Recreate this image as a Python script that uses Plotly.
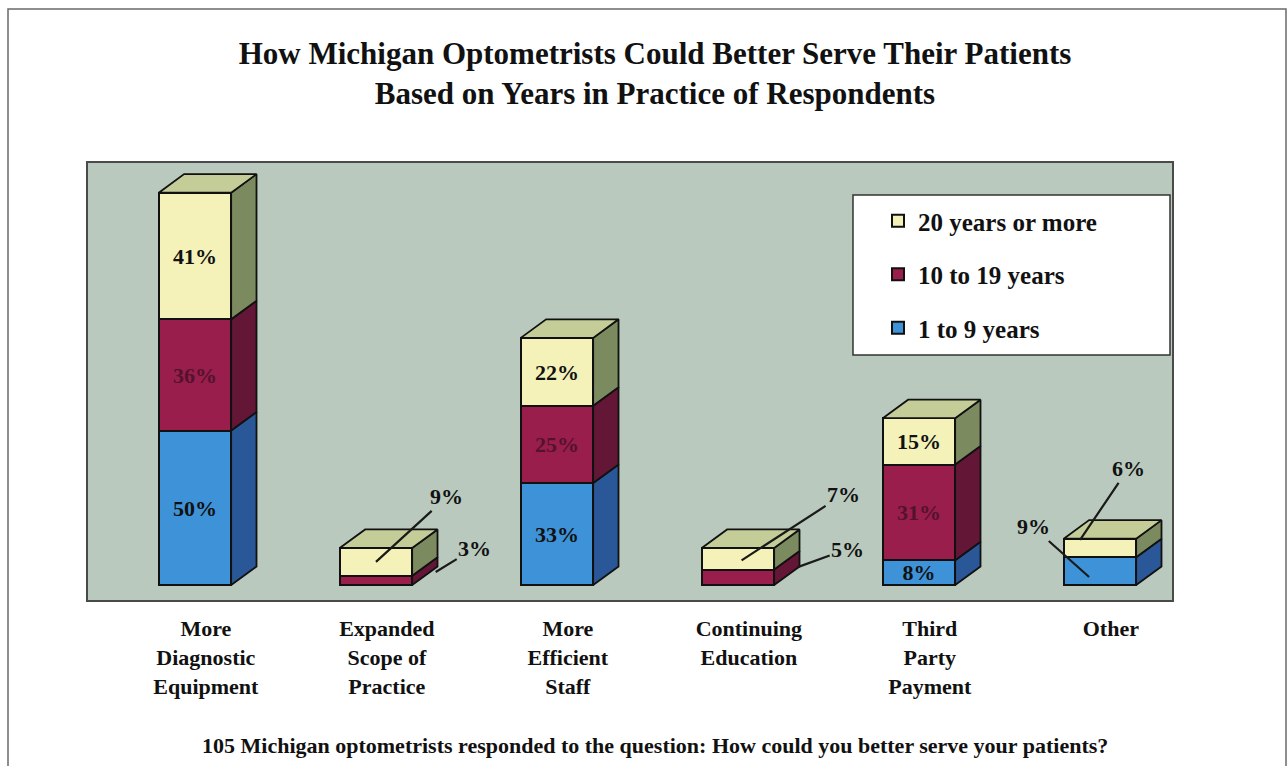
import plotly.graph_objects as go

# ---- data -------------------------------------------------------------
categories = ["More<br>Diagnostic<br>Equipment", "Expanded<br>Scope of<br>Practice",
              "More<br>Efficient<br>Staff", "Continuing<br>Education",
              "Third<br>Party<br>Payment", "Other"]
series_names = ["1 to 9 years", "10 to 19 years", "20 years or more"]
yrs_1_9 = [50, 0, 33, 0, 8, 9]
yrs_10_19 = [36, 3, 25, 5, 31, 0]
yrs_20_plus = [41, 9, 22, 7, 15, 6]

series_values = [yrs_1_9, yrs_10_19, yrs_20_plus]

# ---- styling ----------------------------------------------------------
FONT = "Liberation Serif, Times New Roman, serif"
front_colors = ["#3E93D8", "#991E4C", "#F4F2B8"]
side_colors = ["#2A5797", "#641636", "#7B8A5F"]
top_color = "#C4CC98"
label_colors = ["#111111", "#55122E", "#111111"]
edge = "#111111"

BAR_W = 0.4      # front-face width (category units)
DEPTH_X = 0.14   # 3-D depth offset along x (category units)
DEPTH_Y = 6.0    # 3-D depth offset along y (value units)
INSIDE_MIN_TOTAL = 30  # stacks shorter than this get callout labels

# plot-area geometry in pixels (used to place paper-referenced items)
PL, PR, PT, PB = 88, 1172, 163, 600
PW, PH = PR - PL, PB - PT


def px_x(px):
    return (px - PL) / PW


def px_y(py):
    return (PB - py) / PH


# callouts for short stacks: (category, series) -> (x shift, y shift, ax, ay)
callouts = {
    (1, 2): (0.00, 0.0, 71, -65),
    (1, 1): (0.33, 2.7, 39, -24),
    (3, 2): (0.02, -0.5, 102, -66),
    (3, 1): (0.33, 3.3, 50, -18),
    (5, 2): (-0.11, 2.6, 48, -71),
    (5, 0): (-0.06, -1.9, -56, -50),
}

n = len(categories)
xs = list(range(n))
totals = [sum(s[i] for s in series_values) for i in xs]

fig = go.Figure()

# front faces as stacked bars (legend lists the top segment first)
for s, (name, vals) in enumerate(zip(series_names, series_values)):
    texts = []
    for i, v in enumerate(vals):
        texts.append(f"{v}%" if (v > 0 and totals[i] >= INSIDE_MIN_TOTAL) else "")
    fig.add_trace(go.Bar(
        x=xs, y=vals, name=name, width=BAR_W,
        marker=dict(color=front_colors[s], line=dict(color=edge, width=2)),
        text=texts, textposition="inside", insidetextanchor="middle",
        textangle=0, constraintext="none",
        textfont=dict(family=FONT, size=22, color=label_colors[s], weight="bold"),
        legendgroup=name, legendrank=1000 - s, hoverinfo="skip",
    ))

# side faces and top faces drawn from the stacked values
for i in xs:
    base = 0
    xr = i + BAR_W / 2
    xl = i - BAR_W / 2
    for s, vals in enumerate(series_values):
        v = vals[i]
        if v <= 0:
            continue
        fig.add_trace(go.Scatter(
            x=[xr, xr + DEPTH_X, xr + DEPTH_X, xr, xr],
            y=[base, base + DEPTH_Y, base + v + DEPTH_Y, base + v, base],
            mode="lines", fill="toself", fillcolor=side_colors[s],
            line=dict(color=edge, width=1.8), showlegend=False, hoverinfo="skip",
        ))
        base += v
    fig.add_trace(go.Scatter(
        x=[xl, xr, xr + DEPTH_X, xl + DEPTH_X, xl],
        y=[base, base, base + DEPTH_Y, base + DEPTH_Y, base],
        mode="lines", fill="toself", fillcolor=top_color,
        line=dict(color=edge, width=1.8), showlegend=False, hoverinfo="skip",
    ))

# callout labels with leader lines for the short stacks
annotations = []
for (i, s), (sx, sy, ax, ay) in callouts.items():
    v = series_values[s][i]
    base = sum(series_values[k][i] for k in range(s))
    annotations.append(dict(
        x=i + sx, y=base + v / 2 + sy, xref="x", yref="y",
        text=f"<b>{v}%</b>", showarrow=True, arrowhead=0, arrowwidth=2.2,
        arrowcolor="#1a1a1a", ax=ax, ay=ay, standoff=0,
        font=dict(family=FONT, size=22, color="#111111"),
    ))

# footnote under the chart
annotations.append(dict(
    x=px_x(655), y=px_y(745), xref="paper", yref="paper",
    text="<b>105 Michigan optometrists responded to the question: How could you better serve your patients?</b>",
    showarrow=False, xanchor="center", yanchor="middle",
    font=dict(family=FONT, size=22, color="#111111"),
))

shapes = [
    # outer frame
    dict(type="rect", xref="paper", yref="paper",
         x0=px_x(8), x1=px_x(1286), y0=px_y(775), y1=px_y(9),
         line=dict(color="#6a6a6a", width=1.5), fillcolor="rgba(0,0,0,0)", layer="below"),
    # legend box
    dict(type="rect", xref="paper", yref="paper",
         x0=px_x(853), x1=px_x(1170), y0=px_y(355), y1=px_y(195),
         line=dict(color="#333333", width=1.5), fillcolor="white", layer="above"),
]

fig.update_layout(
    width=1288, height=766,
    margin=dict(l=PL, r=1288 - PR, t=PT, b=766 - PB),
    paper_bgcolor="white", plot_bgcolor="#B9C9BD",
    barmode="stack", bargap=0,
    title=dict(
        text="<b>How Michigan Optometrists Could Better Serve Their Patients<br>Based on Years in Practice of Respondents</b>",
        x=655 / 1288, xanchor="center", y=1 - 64 / 766, yanchor="middle",
        xref="container", yref="container",
        font=dict(family=FONT, size=31, color="#111111"),
    ),
    xaxis=dict(
        range=[-0.591, 5.398], tickmode="array", tickvals=[x + 0.06 for x in xs],
        ticktext=[f"<b>{c}</b>" for c in categories],
        tickfont=dict(family=FONT, size=22, color="#111111"),
        ticks="", ticklabelstandoff=8,
        showgrid=False, zeroline=False, showline=True, mirror=True,
        linecolor="#4a4a4a", linewidth=2,
    ),
    yaxis=dict(
        range=[-4.85, 136.6], showticklabels=False, ticks="",
        showgrid=False, zeroline=False, showline=True, mirror=True,
        linecolor="#4a4a4a", linewidth=2,
    ),
    legend=dict(
        x=px_x(878), y=px_y(198), xanchor="left", yanchor="top",
        bgcolor="rgba(0,0,0,0)", borderwidth=0, traceorder="grouped",
        tracegroupgap=18,
        font=dict(family=FONT, size=25, color="#111111", weight="bold"),
    ),
    annotations=annotations,
    shapes=shapes,
    showlegend=True,
)

fig.write_html("out.html")
